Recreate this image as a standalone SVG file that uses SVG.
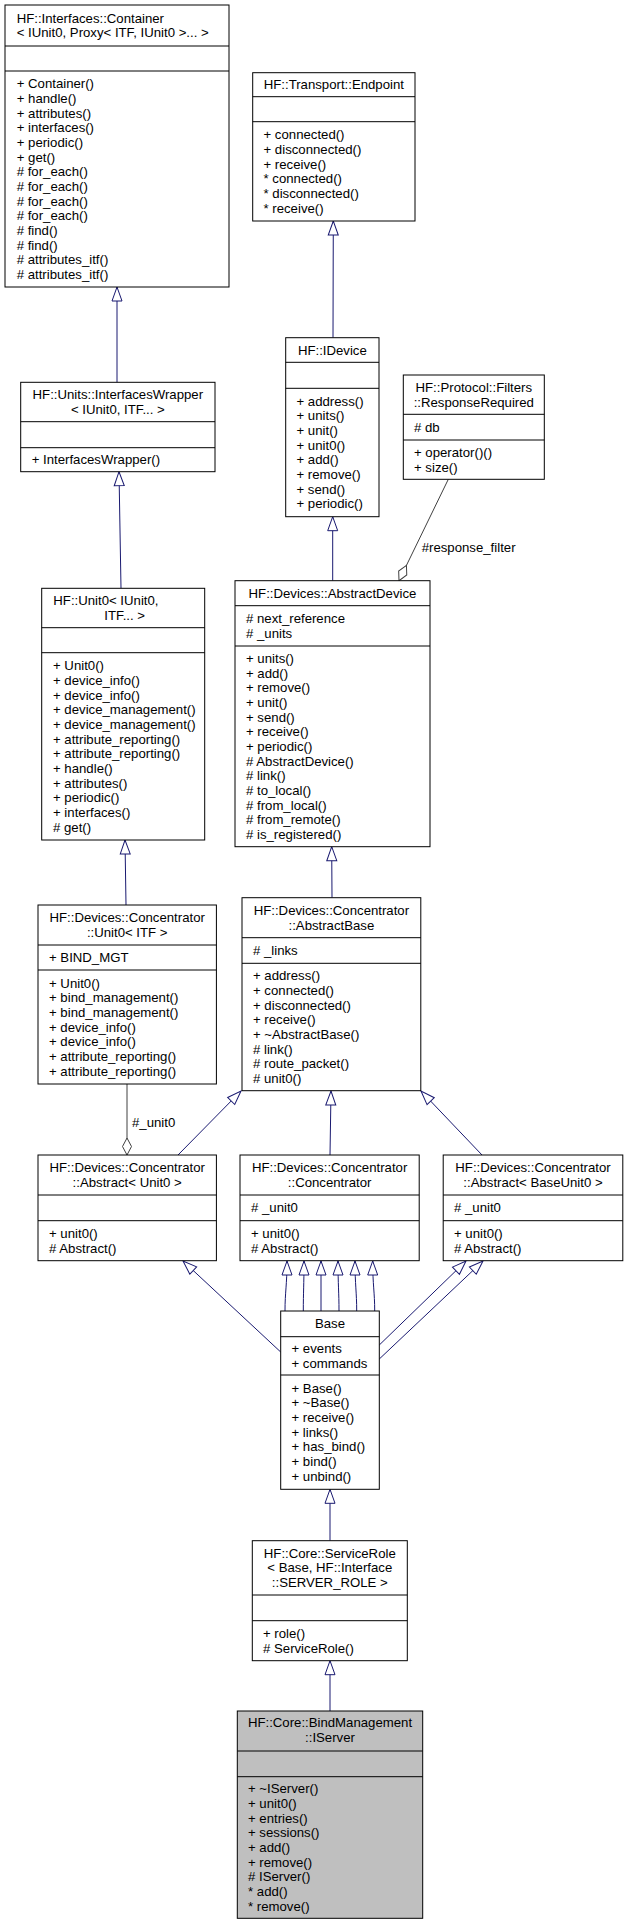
<svg xmlns="http://www.w3.org/2000/svg" width="627" height="1925" viewBox="0 0 627 1925">
<style>
.box{fill:#fff;stroke:#000;stroke-width:1}
.sel{fill:#bfbfbf}
.sep{stroke:#000;stroke-width:1}
text{font-family:"Liberation Sans",Arial,Helvetica,sans-serif;font-size:13.2px;fill:#000}
.c{text-anchor:middle}
.inh{stroke:#191970;stroke-width:1;fill:none;marker-end:url(#tri)}
.comp{stroke:#404040;stroke-width:1;fill:none;marker-end:url(#dia)}
</style>
<defs>
<marker id="tri" markerUnits="userSpaceOnUse" markerWidth="16" markerHeight="12" viewBox="0 -6 16 12" refX="14" refY="0" orient="auto" overflow="visible"><path d="M0,-5 L14,0 L0,5 Z" fill="#fff" stroke="#191970" stroke-width="1"/></marker>
<marker id="dia" markerUnits="userSpaceOnUse" markerWidth="18" markerHeight="10" viewBox="0 -5 18 10" refX="17" refY="0" orient="auto" overflow="visible"><path d="M0,0 L8.5,-4.5 L17,0 L8.5,4.5 Z" fill="#fff" stroke="#404040" stroke-width="1"/></marker>
</defs>

<g id="edges">
<path class="inh" d="M117,382.3 L117,287"/>
<path class="inh" d="M121,588.3 L119,471.7"/>
<path class="inh" d="M126,905 L125,840"/>
<path class="inh" d="M333,337.7 L333.3,221"/>
<path class="inh" d="M332.7,580.7 L332.7,516.7"/>
<path class="comp" d="M448.3,479.3 L399,580.7"/>
<path class="inh" d="M332,897.7 L331.7,846.7"/>
<path class="comp" d="M127,1084 L127,1155"/>
<path class="inh" d="M178,1155 L241,1091"/>
<path class="inh" d="M330,1155 L331,1091"/>
<path class="inh" d="M482,1155 L421,1091"/>
<path class="inh" d="M280.7,1352 L183,1261"/>
<path class="inh" d="M285,1311 C285,1292 287,1285 287,1261"/>
<path class="inh" d="M303.3,1311 C303.3,1292 304,1285 304,1261"/>
<path class="inh" d="M321,1311 L321,1261"/>
<path class="inh" d="M339,1311 C339,1292 338,1285 338,1261"/>
<path class="inh" d="M356.7,1311 C356.7,1292 355,1285 355,1261"/>
<path class="inh" d="M374.7,1311 C374.7,1292 372.7,1285 372.7,1261"/>
<path class="inh" d="M379.3,1345 L466,1261"/>
<path class="inh" d="M379.3,1359 L483,1261"/>
<path class="inh" d="M330,1540.7 L330,1489.3"/>
<path class="inh" d="M330,1711 L330,1660.7"/>
<text x="421.7" y="552">#response_filter</text>
<text x="132" y="1127">#_unit0</text>
</g>

<g id="container">
<rect class="box" x="5" y="5" width="224" height="282"/>
<line class="sep" x1="5" y1="46" x2="229" y2="46"/>
<line class="sep" x1="5" y1="71" x2="229" y2="71"/>
<text x="16.7" y="22.7">HF::Interfaces::Container</text>
<text x="16.7" y="37.3">&lt; IUnit0, Proxy&lt; ITF, IUnit0 &gt;... &gt;</text>
<text x="16.7" y="88.2">+ Container()</text>
<text x="16.7" y="102.8">+ handle()</text>
<text x="16.7" y="117.5">+ attributes()</text>
<text x="16.7" y="132.2">+ interfaces()</text>
<text x="16.7" y="146.8">+ periodic()</text>
<text x="16.7" y="161.5">+ get()</text>
<text x="16.7" y="176.2"># for_each()</text>
<text x="16.7" y="190.8"># for_each()</text>
<text x="16.7" y="205.5"># for_each()</text>
<text x="16.7" y="220.2"># for_each()</text>
<text x="16.7" y="234.8"># find()</text>
<text x="16.7" y="249.5"># find()</text>
<text x="16.7" y="264.2"># attributes_itf()</text>
<text x="16.7" y="278.8"># attributes_itf()</text>
</g>

<g id="endpoint">
<rect class="box" x="252.7" y="72.7" width="162.3" height="148.3"/>
<line class="sep" x1="252.7" y1="96.7" x2="415" y2="96.7"/>
<line class="sep" x1="252.7" y1="121.7" x2="415" y2="121.7"/>
<text class="c" x="333.85" y="89.2">HF::Transport::Endpoint</text>
<text x="263.5" y="139.2">+ connected()</text>
<text x="263.5" y="153.9">+ disconnected()</text>
<text x="263.5" y="168.5">+ receive()</text>
<text x="263.5" y="183.2">* connected()</text>
<text x="263.5" y="197.9">* disconnected()</text>
<text x="263.5" y="212.5">* receive()</text>
</g>

<g id="interfaceswrapper">
<rect class="box" x="20.7" y="382.3" width="194.3" height="89.4"/>
<line class="sep" x1="20.7" y1="421.7" x2="215" y2="421.7"/>
<line class="sep" x1="20.7" y1="447.7" x2="215" y2="447.7"/>
<text class="c" x="117.85" y="399.2">HF::Units::InterfacesWrapper</text>
<text class="c" x="117.85" y="413.8">&lt; IUnit0, ITF... &gt;</text>
<text x="31.7" y="464.2">+ InterfacesWrapper()</text>
</g>

<g id="idevice">
<rect class="box" x="285.7" y="337.7" width="93.3" height="179"/>
<line class="sep" x1="285.7" y1="362.3" x2="379" y2="362.3"/>
<line class="sep" x1="285.7" y1="388.3" x2="379" y2="388.3"/>
<text class="c" x="332.35" y="354.5">HF::IDevice</text>
<text x="296.5" y="405.7">+ address()</text>
<text x="296.5" y="420.4">+ units()</text>
<text x="296.5" y="435">+ unit()</text>
<text x="296.5" y="449.7">+ unit0()</text>
<text x="296.5" y="464.4">+ add()</text>
<text x="296.5" y="479">+ remove()</text>
<text x="296.5" y="493.7">+ send()</text>
<text x="296.5" y="508.4">+ periodic()</text>
</g>

<g id="responserequired">
<rect class="box" x="403.3" y="375" width="141" height="104.3"/>
<line class="sep" x1="403.3" y1="414.3" x2="544.3" y2="414.3"/>
<line class="sep" x1="403.3" y1="440" x2="544.3" y2="440"/>
<text class="c" x="473.8" y="391.8">HF::Protocol::Filters</text>
<text class="c" x="473.8" y="406.5">::ResponseRequired</text>
<text x="414" y="431.7"># db</text>
<text x="414" y="456.8">+ operator()()</text>
<text x="414" y="471.5">+ size()</text>
</g>

<g id="unit0">
<rect class="box" x="41.7" y="588.3" width="163" height="251.7"/>
<line class="sep" x1="41.7" y1="627.7" x2="204.7" y2="627.7"/>
<line class="sep" x1="41.7" y1="652.7" x2="204.7" y2="652.7"/>
<text x="53.3" y="605.2">HF::Unit0&lt; IUnit0,</text>
<text class="c" x="124.7" y="619.8">ITF... &gt;</text>
<text x="53" y="670.2">+ Unit0()</text>
<text x="53" y="684.8">+ device_info()</text>
<text x="53" y="699.5">+ device_info()</text>
<text x="53" y="714.2">+ device_management()</text>
<text x="53" y="728.8">+ device_management()</text>
<text x="53" y="743.5">+ attribute_reporting()</text>
<text x="53" y="758.2">+ attribute_reporting()</text>
<text x="53" y="772.8">+ handle()</text>
<text x="53" y="787.5">+ attributes()</text>
<text x="53" y="802.2">+ periodic()</text>
<text x="53" y="816.8">+ interfaces()</text>
<text x="53" y="831.5"># get()</text>
</g>

<g id="abstractdevice">
<rect class="box" x="235" y="580.7" width="195" height="266"/>
<line class="sep" x1="235" y1="605.7" x2="430" y2="605.7"/>
<line class="sep" x1="235" y1="646" x2="430" y2="646"/>
<text class="c" x="332.5" y="597.7">HF::Devices::AbstractDevice</text>
<text x="246" y="623"># next_reference</text>
<text x="246" y="637.7"># _units</text>
<text x="246" y="662.8">+ units()</text>
<text x="246" y="677.5">+ add()</text>
<text x="246" y="692.1">+ remove()</text>
<text x="246" y="706.8">+ unit()</text>
<text x="246" y="721.5">+ send()</text>
<text x="246" y="736.1">+ receive()</text>
<text x="246" y="750.8">+ periodic()</text>
<text x="246" y="765.5"># AbstractDevice()</text>
<text x="246" y="780.1"># link()</text>
<text x="246" y="794.8"># to_local()</text>
<text x="246" y="809.5"># from_local()</text>
<text x="246" y="824.1"># from_remote()</text>
<text x="246" y="838.8"># is_registered()</text>
</g>

<g id="concentrator_unit0">
<rect class="box" x="38" y="905" width="178.4" height="179"/>
<line class="sep" x1="38" y1="945" x2="216.4" y2="945"/>
<line class="sep" x1="38" y1="970" x2="216.4" y2="970"/>
<text class="c" x="127.2" y="922.2">HF::Devices::Concentrator</text>
<text class="c" x="127.2" y="936.8">::Unit0&lt; ITF &gt;</text>
<text x="49" y="962">+ BIND_MGT</text>
<text x="49" y="987.5">+ Unit0()</text>
<text x="49" y="1002.2">+ bind_management()</text>
<text x="49" y="1016.8">+ bind_management()</text>
<text x="49" y="1031.5">+ device_info()</text>
<text x="49" y="1046.2">+ device_info()</text>
<text x="49" y="1060.8">+ attribute_reporting()</text>
<text x="49" y="1075.5">+ attribute_reporting()</text>
</g>

<g id="abstractbase">
<rect class="box" x="242" y="897.7" width="178.8" height="193"/>
<line class="sep" x1="242" y1="937.7" x2="420.8" y2="937.7"/>
<line class="sep" x1="242" y1="963.3" x2="420.8" y2="963.3"/>
<text class="c" x="331.4" y="914.9">HF::Devices::Concentrator</text>
<text class="c" x="331.4" y="929.5">::AbstractBase</text>
<text x="253" y="955"># _links</text>
<text x="253" y="980.2">+ address()</text>
<text x="253" y="994.9">+ connected()</text>
<text x="253" y="1009.5">+ disconnected()</text>
<text x="253" y="1024.2">+ receive()</text>
<text x="253" y="1038.9">+ ~AbstractBase()</text>
<text x="253" y="1053.5"># link()</text>
<text x="253" y="1068.2"># route_packet()</text>
<text x="253" y="1082.9"># unit0()</text>
</g>

<g id="abstract_unit0">
<rect class="box" x="38" y="1155" width="178.4" height="105.7"/>
<line class="sep" x1="38" y1="1195" x2="216.4" y2="1195"/>
<line class="sep" x1="38" y1="1220.7" x2="216.4" y2="1220.7"/>
<text class="c" x="127.2" y="1172.2">HF::Devices::Concentrator</text>
<text class="c" x="127.2" y="1186.8">::Abstract&lt; Unit0 &gt;</text>
<text x="49" y="1237.9">+ unit0()</text>
<text x="49" y="1252.5"># Abstract()</text>
</g>

<g id="concentrator">
<rect class="box" x="240" y="1155" width="179.2" height="105.7"/>
<line class="sep" x1="240" y1="1195" x2="419.2" y2="1195"/>
<line class="sep" x1="240" y1="1220.7" x2="419.2" y2="1220.7"/>
<text class="c" x="329.6" y="1172.2">HF::Devices::Concentrator</text>
<text class="c" x="329.6" y="1186.8">::Concentrator</text>
<text x="251" y="1212.4"># _unit0</text>
<text x="251" y="1237.9">+ unit0()</text>
<text x="251" y="1252.5"># Abstract()</text>
</g>

<g id="abstract_baseunit0">
<rect class="box" x="443.2" y="1155" width="179.6" height="105.7"/>
<line class="sep" x1="443.2" y1="1195" x2="622.8" y2="1195"/>
<line class="sep" x1="443.2" y1="1220.7" x2="622.8" y2="1220.7"/>
<text class="c" x="533" y="1172.2">HF::Devices::Concentrator</text>
<text class="c" x="533" y="1186.8">::Abstract&lt; BaseUnit0 &gt;</text>
<text x="454" y="1212.4"># _unit0</text>
<text x="454" y="1237.9">+ unit0()</text>
<text x="454" y="1252.5"># Abstract()</text>
</g>

<g id="base">
<rect class="box" x="280.7" y="1311" width="98.6" height="178.3"/>
<line class="sep" x1="280.7" y1="1336.7" x2="379.3" y2="1336.7"/>
<line class="sep" x1="280.7" y1="1375" x2="379.3" y2="1375"/>
<text class="c" x="330" y="1328.4">Base</text>
<text x="291.5" y="1353">+ events</text>
<text x="291.5" y="1367.7">+ commands</text>
<text x="291.5" y="1392.6">+ Base()</text>
<text x="291.5" y="1407.3">+ ~Base()</text>
<text x="291.5" y="1422">+ receive()</text>
<text x="291.5" y="1436.6">+ links()</text>
<text x="291.5" y="1451.3">+ has_bind()</text>
<text x="291.5" y="1466">+ bind()</text>
<text x="291.5" y="1480.6">+ unbind()</text>
</g>

<g id="servicerole">
<rect class="box" x="252.3" y="1540.7" width="155" height="120"/>
<line class="sep" x1="252.3" y1="1595" x2="407.3" y2="1595"/>
<line class="sep" x1="252.3" y1="1620.7" x2="407.3" y2="1620.7"/>
<text class="c" x="329.8" y="1557.7">HF::Core::ServiceRole</text>
<text class="c" x="329.8" y="1572.4">&lt; Base, HF::Interface</text>
<text class="c" x="329.8" y="1587">::SERVER_ROLE &gt;</text>
<text x="263" y="1637.9">+ role()</text>
<text x="263" y="1652.5"># ServiceRole()</text>
</g>

<g id="iserver">
<rect class="box sel" x="237.3" y="1711" width="185.4" height="207.3"/>
<line class="sep" x1="237.3" y1="1751" x2="422.7" y2="1751"/>
<line class="sep" x1="237.3" y1="1776.7" x2="422.7" y2="1776.7"/>
<text class="c" x="330" y="1727.2">HF::Core::BindManagement</text>
<text class="c" x="330" y="1741.8">::IServer</text>
<text x="248" y="1793.3">+ ~IServer()</text>
<text x="248" y="1808">+ unit0()</text>
<text x="248" y="1822.6">+ entries()</text>
<text x="248" y="1837.3">+ sessions()</text>
<text x="248" y="1852">+ add()</text>
<text x="248" y="1866.6">+ remove()</text>
<text x="248" y="1881.3"># IServer()</text>
<text x="248" y="1896">* add()</text>
<text x="248" y="1910.6">* remove()</text>
</g>
</svg>
